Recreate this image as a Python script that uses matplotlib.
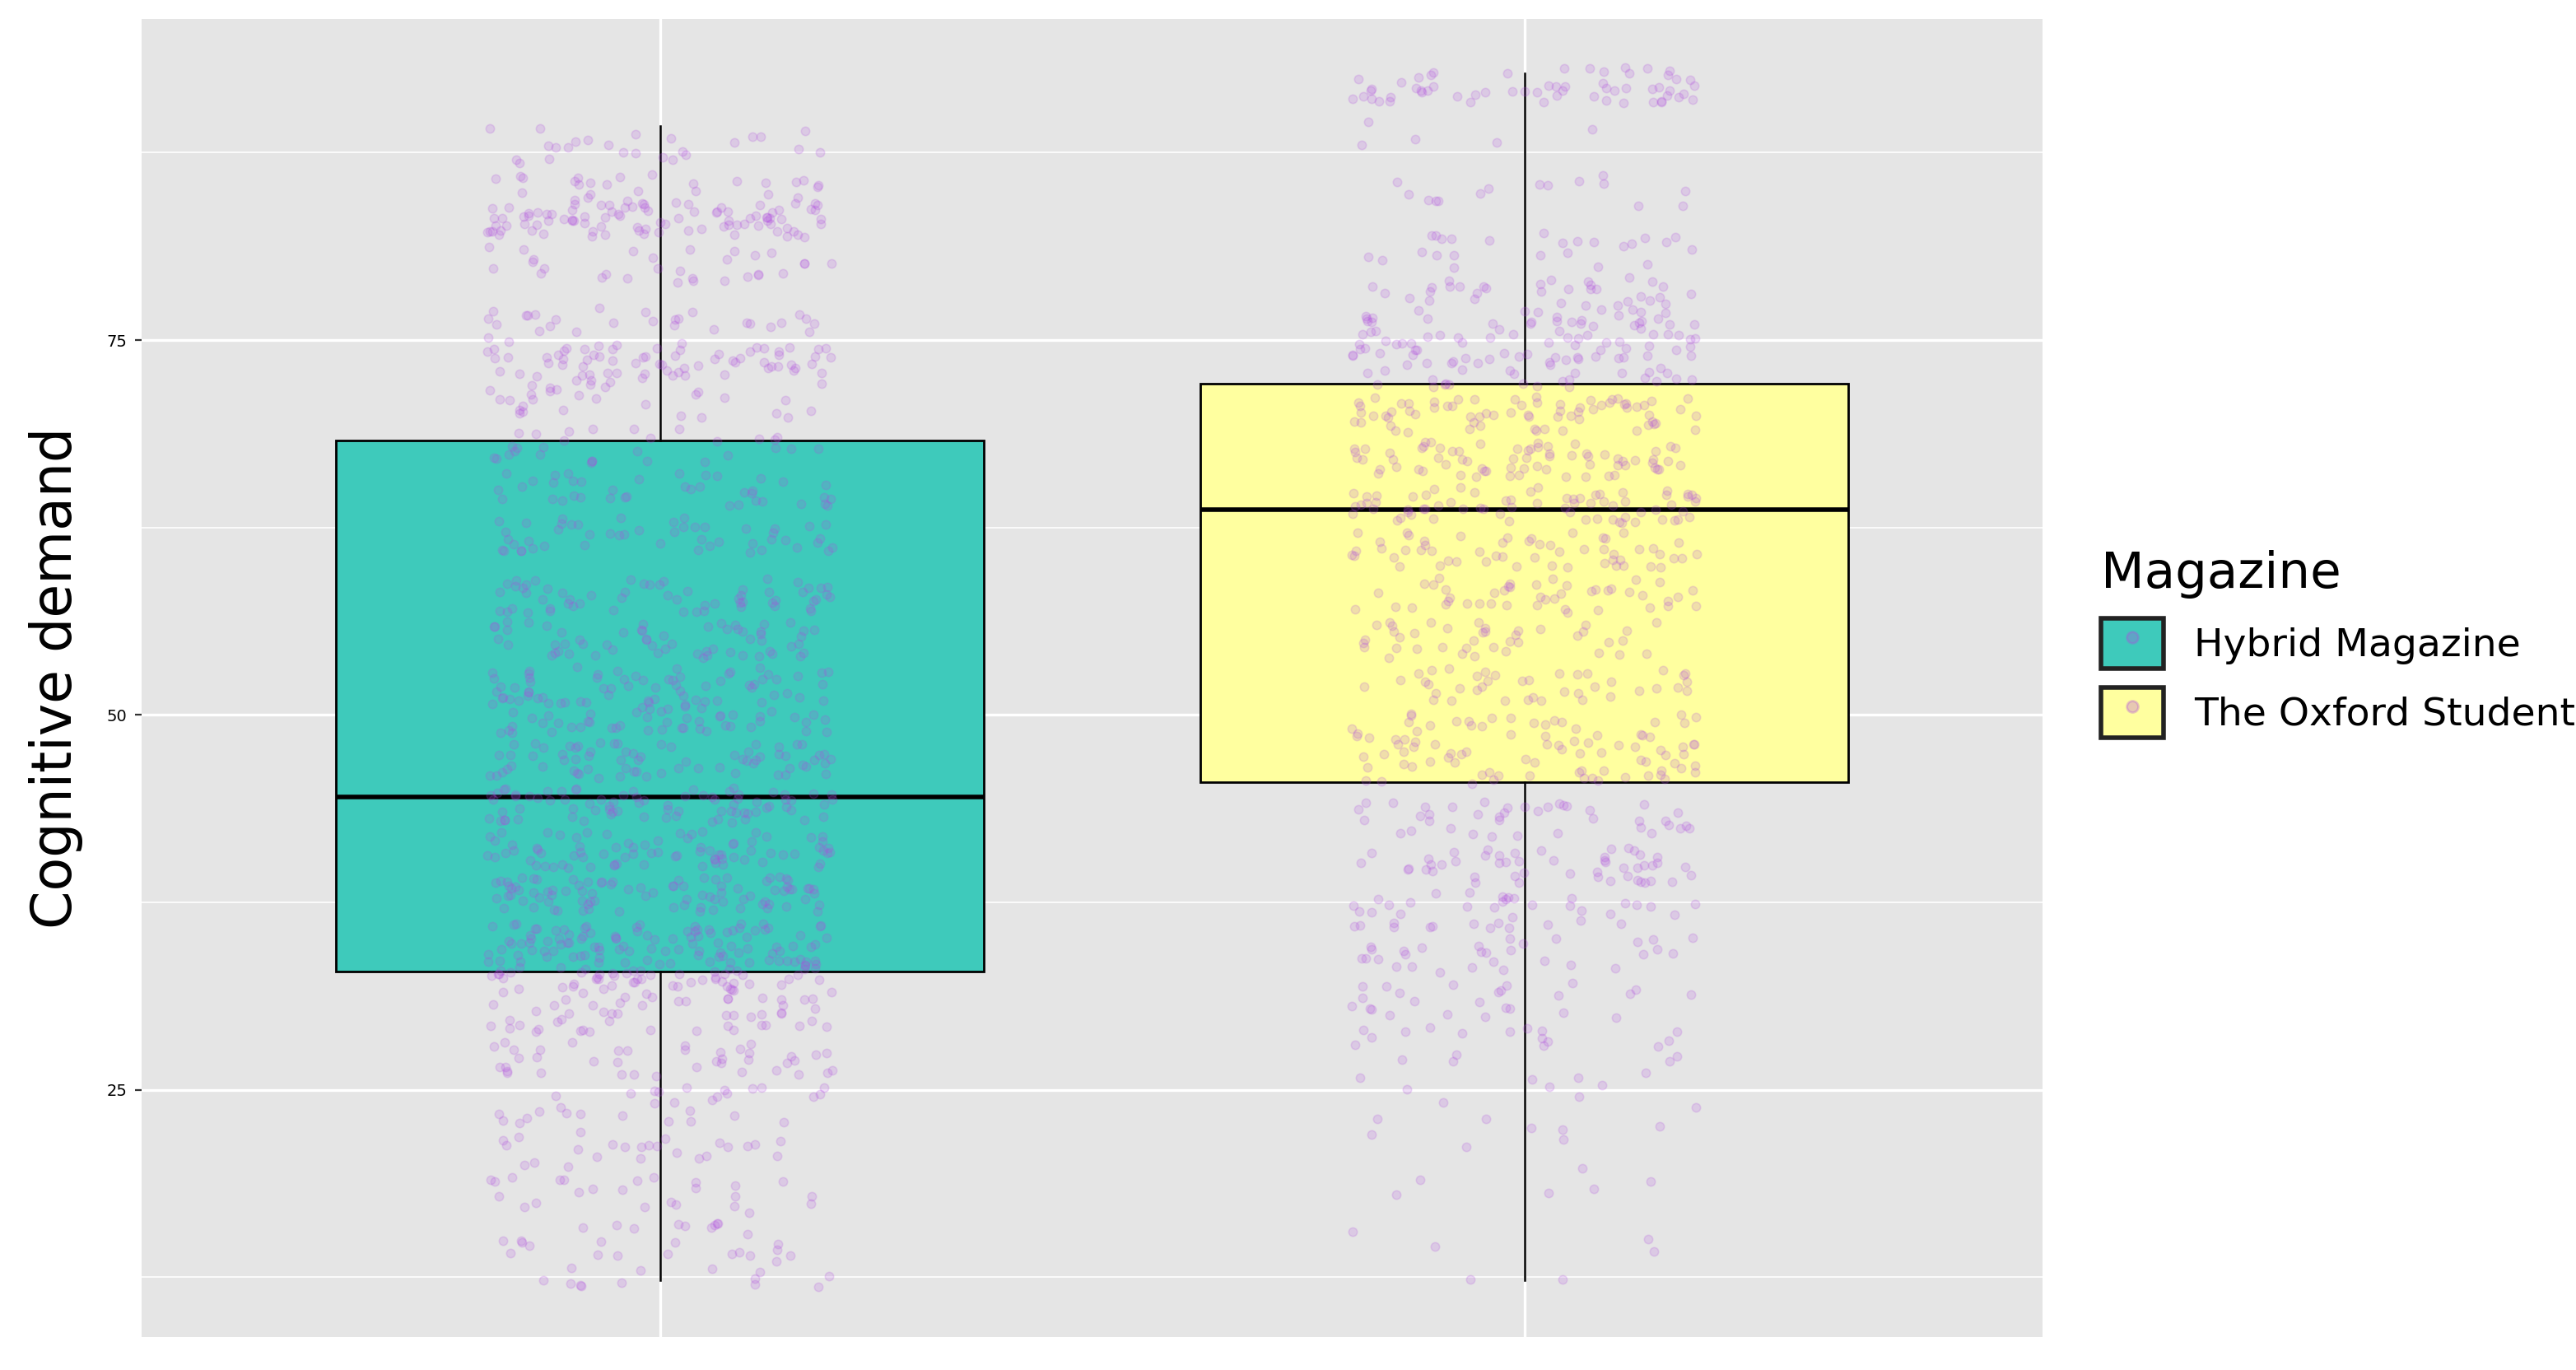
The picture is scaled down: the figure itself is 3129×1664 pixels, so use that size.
import numpy as np
import matplotlib.pyplot as plt
from matplotlib.patches import Patch
from matplotlib.lines import Line2D

# box statistics
magazines = ["Hybrid Magazine", "The Oxford Student"]
fills = ["#3ECABB", "#FFFF9F"]
q1 = [32.9, 45.5]
median = [44.5, 63.7]
q3 = [68.3, 72.1]
whisk_lo = [12.3, 12.3]
whisk_hi = [89.3, 92.8]

# approximate distribution of the jittered points (value level, count)
hyb_levels = [88, 85, 83, 80, 76, 73.5, 71, 68, 65, 62, 58, 55, 52, 50, 47, 44,
              41, 38, 35, 32.5, 30, 27, 24, 21, 18, 15, 13]
hyb_counts = [25, 30, 90, 30, 30, 70, 30, 30, 40, 50, 60, 60, 60, 60, 70, 80,
              80, 90, 90, 80, 50, 40, 30, 25, 25, 20, 20]
oxf_levels = [92, 89, 85, 81, 78, 75.5, 73, 70, 67, 64, 61, 58, 55, 52, 49, 46.5,
              43, 40, 37, 34, 31, 28, 25, 22, 19, 15, 12.5]
oxf_counts = [60, 5, 15, 25, 40, 60, 50, 70, 70, 70, 55, 45, 40, 40, 45, 45,
              40, 50, 40, 30, 25, 20, 10, 8, 6, 4, 2]

pt_col = "#B04BE0"
rng = np.random.default_rng(3)

fig = plt.figure(figsize=(15.645, 8.32), dpi=200)
ax = fig.add_axes([0.055, 0.024, 0.738, 0.962])
ax.set_facecolor("#E5E5E5")
ax.set_xlim(0.4, 2.6)
ax.set_ylim(8.5, 96.4)

for y in [12.5, 37.5, 62.5, 87.5]:
    ax.axhline(y, color="white", lw=0.6, zorder=0)
for y in [25, 50, 75]:
    ax.axhline(y, color="white", lw=1.2, zorder=0)
for x in [1, 2]:
    ax.axvline(x, color="white", lw=1.2, zorder=0)

bp = ax.boxplot(
    [[whisk_lo[i], q1[i], median[i], q3[i], whisk_hi[i]] for i in range(2)],
    positions=[1, 2], widths=0.75, whis=(0, 100), patch_artist=True,
    showfliers=False, showcaps=False, zorder=2)
for i, b in enumerate(bp["boxes"]):
    b.set_facecolor(fills[i])
    b.set_edgecolor("black")
    b.set_linewidth(1.0)
for m in bp["medians"]:
    m.set_color("black")
    m.set_linewidth(2.0)
for w in bp["whiskers"]:
    w.set_color("black")
    w.set_linewidth(0.9)

for pos, levels, counts in [(1, hyb_levels, hyb_counts), (2, oxf_levels, oxf_counts)]:
    ys = np.repeat(levels, counts) + rng.uniform(-1.2, 1.2, sum(counts))
    xs = pos + rng.uniform(-0.2, 0.2, len(ys))
    ax.scatter(xs, ys, s=14, color=pt_col, alpha=0.18, lw=0.6,
               edgecolors=pt_col, zorder=3)

ax.set_yticks([25, 50, 75])
ax.set_xticks([])
ax.tick_params(axis="y", labelsize=7, length=3, color="#333333")
for s in ax.spines.values():
    s.set_visible(False)
ax.set_ylabel("Cognitive demand", fontsize=24, labelpad=10)

handles = [(Patch(facecolor=fills[i], edgecolor="#222222", lw=2),
            Line2D([], [], marker="o", ls="", color=pt_col, alpha=0.3, ms=5))
           for i in range(2)]
leg = fig.legend(handles, magazines, title="Magazine", loc="center left",
                 bbox_to_anchor=(0.802, 0.53), frameon=False, fontsize=17,
                 title_fontsize=22, handlelength=1.6, handleheight=1.6,
                 alignment="left")
plt.savefig("out.png", dpi=200)
